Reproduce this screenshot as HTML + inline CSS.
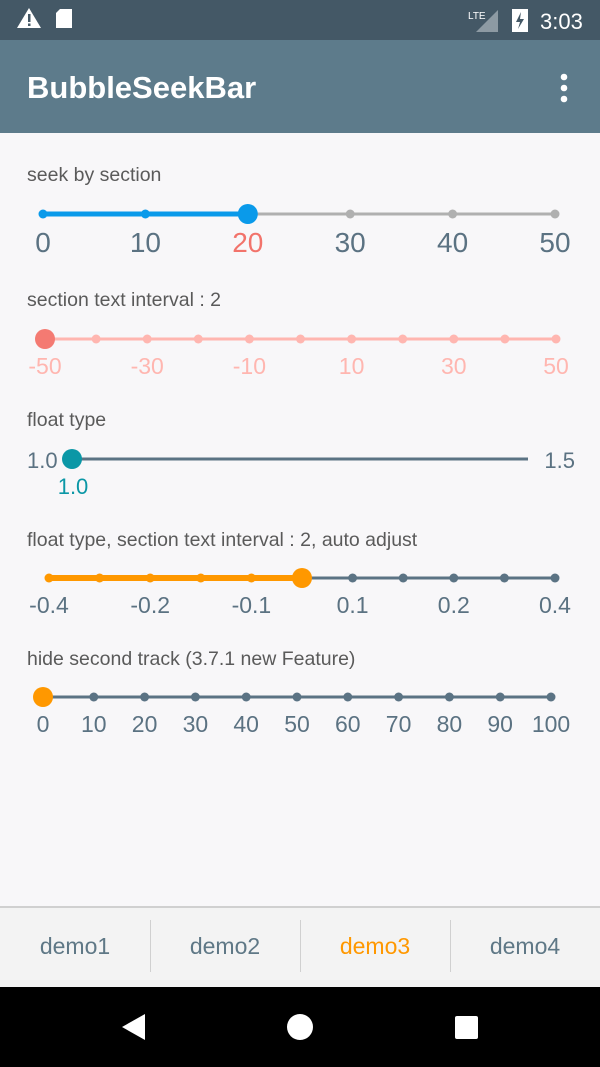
<!DOCTYPE html>
<html><head><meta charset="utf-8"><style>
body{margin:0;width:600px;height:1067px;position:relative;overflow:hidden;background:#f8f7f9;font-family:"Liberation Sans",Roboto,sans-serif}
.abs{position:absolute}
.title{position:absolute;left:27px;font-size:19.5px;color:#5a5a5a;line-height:20px}
.tab{position:absolute;top:906px;height:81px;width:150px;line-height:81px;text-align:center;font-size:23px;color:#5f7886}
</style></head><body>
<div class="abs" style="left:0;top:0;width:600px;height:40px;background:#445866"></div>
<svg class="abs" style="left:0;top:0" width="600" height="40">
<polygon points="17,28 29,8 41,28" fill="#fff"/><rect x="28" y="14" width="2.5" height="8" fill="#445866"/><rect x="28" y="23.5" width="2.5" height="2.5" fill="#445866"/>
<path d="M60,9 h12 v19 h-16 v-15 z" fill="#fff"/>
<text x="468" y="19" font-size="10" fill="#fff" font-family="Liberation Sans">LTE</text>
<polygon points="476,32 498,10 498,32" fill="#8d9aa3"/>
<rect x="512" y="9" width="16" height="23" fill="#fff"/><path d="M521,12 l-5,10 h4 l-2,7 l6,-10 h-4 z" fill="#445866"/>
<text x="540" y="29" font-size="22" fill="#fff" font-family="Liberation Sans">3:03</text>
</svg>
<div class="abs" style="left:0;top:40px;width:600px;height:93px;background:#5d7b8b"></div>
<div class="abs" style="left:27px;top:70px;font-size:31px;font-weight:bold;color:#fff;line-height:36px">BubbleSeekBar</div>
<svg class="abs" style="left:554px;top:72px" width="20" height="32"><circle cx="10" cy="5" r="3.3" fill="#fff"/><circle cx="10" cy="16" r="3.3" fill="#fff"/><circle cx="10" cy="27" r="3.3" fill="#fff"/></svg>

<div class="title" style="top:165px">seek by section</div>
<div class="title" style="top:290px">section text interval : 2</div>
<div class="title" style="top:410px">float type</div>
<div class="title" style="top:530px">float type, section text interval : 2, auto adjust</div>
<div class="title" style="top:649px">hide second track (3.7.1 new Feature)</div>

<div id="sliders"></div>

<div class="abs" style="left:0;top:906px;width:600px;height:81px;background:#f3f3f3;border-top:2px solid #d0d0d0;box-sizing:border-box"></div>
<div class="abs" style="left:150px;top:920px;width:1px;height:52px;background:#d0d0d0"></div>
<div class="abs" style="left:300px;top:920px;width:1px;height:52px;background:#d0d0d0"></div>
<div class="abs" style="left:450px;top:920px;width:1px;height:52px;background:#d0d0d0"></div>
<div class="tab" style="left:0">demo1</div>
<div class="tab" style="left:150px">demo2</div>
<div class="tab" style="left:300px;color:#ff9800">demo3</div>
<div class="tab" style="left:450px">demo4</div>
<div class="abs" style="left:0;top:987px;width:600px;height:80px;background:#000"></div>
<svg class="abs" style="left:0;top:987px" width="600" height="80">
<polygon points="122,40 145,27 145,53" fill="#fff"/>
<circle cx="300" cy="40" r="13" fill="#fff"/>
<rect x="455" y="29" width="23" height="23" rx="2" fill="#fff"/>
</svg>
<script>
// slider 1
const s1Ticks=["0","10","20","30","40","50"];
const s1Value=2;
// slider 2
const s2Count=11;
const s2Labels=["-50","","-30","","-10","","10","","30","","50"];
const s2Value=0;
// slider 4
const s4Count=11;
const s4Labels=["-0.4","","-0.2","","-0.1","","0.1","","0.2","","0.4"];
const s4Value=5;
// slider 5
const s5Labels=["0","10","20","30","40","50","60","70","80","90","100"];
const s5Value=0;

const root=document.getElementById('sliders');
const NS='http://www.w3.org/2000/svg';
const svg=document.createElementNS(NS,'svg');
svg.setAttribute('width','600');svg.setAttribute('height','1067');
svg.setAttribute('style','position:absolute;left:0;top:0');


root.appendChild(svg);
function el(t,a,name,inter){const e=document.createElementNS(NS,t);for(const k in a)e.setAttribute(k,a[k]);


svg.appendChild(e);return e;}
function txt(x,y,s,size,col,name,anchor){const e=el('text',{x:x,y:y,'font-size':size,fill:col,'text-anchor':anchor||'middle','font-family':'Liberation Sans, sans-serif'},name,false);e.textContent=s;}
function slider(o){
 const n=o.count,sx=i=>o.x0+(o.x1-o.x0)*i/(n-1);
 el('line',{x1:o.x0,y1:o.y,x2:o.x1,y2:o.y,stroke:o.track,'stroke-width':o.tw},o.name+'-track',true);
 const tx=sx(o.value);
 if(o.value>0) el('line',{x1:o.x0,y1:o.y,x2:tx,y2:o.y,stroke:o.prog,'stroke-width':o.pw},o.name+'-progress',false);
 for(let i=0;i<n;i++){ if(o.dots) el('circle',{cx:sx(i),cy:o.y,r:o.dr,fill:i<=o.value?o.prog:o.track},o.name+'-tick-'+i,false);
  const l=o.labels[i]; if(l) txt(sx(i),o.ly,l,o.ls,(o.selCol&&i==o.value)?o.selCol:o.lc,o.name+'-label-'+i);}
 el('circle',{cx:tx,cy:o.y,r:o.tr,fill:o.thumb},o.name+'-thumb',true);
}
slider({name:'seekbar-section',count:s1Ticks.length,x0:43,x1:555,y:214,track:'#b0b0b0',tw:3,prog:'#0a9aea',pw:5,dots:true,dr:4.5,value:s1Value,labels:s1Ticks,ly:252,ls:28,lc:'#5b7282',selCol:'#f2736b',tr:10,thumb:'#0a9aea'});
slider({name:'seekbar-interval',count:s2Count,x0:45,x1:556,y:339,track:'#ffb6b0',tw:3,prog:'#f47a72',pw:3,dots:true,dr:4.5,value:s2Value,labels:s2Labels,ly:374,ls:23,lc:'#ffb6b0',tr:10,thumb:'#f47a72'});
// slider 3
el('line',{x1:72,y1:459,x2:528,y2:459,stroke:'#5b7384','stroke-width':3},'seekbar-float-track',true);
el('circle',{cx:72,cy:459,r:10,fill:'#0b97a6'},'seekbar-float-thumb',true);
txt(27,468,'1.0',22,'#5b7282','seekbar-float-min','start');
txt(575,468,'1.5',22,'#5b7282','seekbar-float-max','end');
txt(73,494,'1.0',22,'#0b97a6','seekbar-float-value');
slider({name:'seekbar-auto-adjust',count:s4Count,x0:49,x1:555,y:578,track:'#5b7384',tw:3,prog:'#ff9800',pw:6,dots:true,dr:4.5,value:s4Value,labels:s4Labels,ly:613,ls:23,lc:'#5b7282',tr:10,thumb:'#ff9800'});
slider({name:'seekbar-hide-track',count:s5Labels.length,x0:43,x1:551,y:697,track:'#5b7384',tw:3,prog:'#5b7384',pw:3,dots:true,dr:4.5,value:s5Value,labels:s5Labels,ly:732,ls:23,lc:'#5b7282',tr:10,thumb:'#ff9800'});
</script>
</body></html>
